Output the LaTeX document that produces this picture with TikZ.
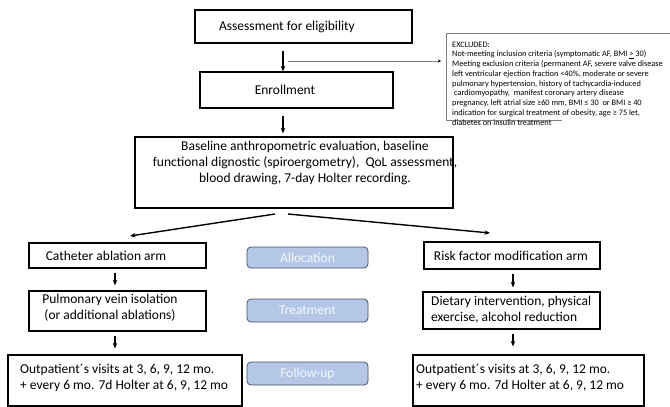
\documentclass[tikz,border=0pt]{standalone}
\usepackage{fontspec}
\setmainfont{Carlito}
\usetikzlibrary{arrows.meta}
\definecolor{pillfill}{RGB}{180,199,231}
\definecolor{pillline}{RGB}{70,80,100}
\definecolor{pilltext}{RGB}{245,248,252}
\definecolor{exclgray}{RGB}{128,128,128}
\begin{document}
\begin{tikzpicture}[x=1pt,y=-1pt,
  box/.style={draw, line width=1.2pt, inner sep=0pt},
  pill/.style={draw=pillline, fill=pillfill, rounded corners=4pt, line width=0.8pt,
    text=pilltext, inner sep=0pt, font=\fontsize{13.5}{16}\selectfont},
  txt/.style={inner sep=0pt, font=\fontsize{13.5}{16}\selectfont},
  arr/.style={-{Stealth[length=5.5pt,width=4.5pt]}, line width=1.2pt},
  exclarr/.style={exclgray, line width=0.8pt, -{Stealth[length=3pt,width=3pt,color=black]}}
]
\useasboundingbox (0,0) rectangle (670,407);
\clip (0,0) rectangle (670,407);

% main column
\node[box, minimum width=217pt, minimum height=33pt] (assess) at (303.5,26.5) {};
\node[txt] (assessT) at (287,27) {Assessment for eligibility};
\node[box, minimum width=193pt, minimum height=36pt] (enroll) at (296.5,90) {};
\node[txt] (enrollT) at (285,90) {Enrollment};
\node[box, minimum width=318pt, minimum height=71pt] (base) at (294,172.5) {};
\node[txt, align=center] (baseT) at (305,163) {Baseline anthropometric evaluation, baseline\\
  functional dignostic (spiroergometry),\ \ QoL assessment,\\
  blood drawing, 7-day Holter recording.};

% excluded box
\draw[exclgray, line width=0.7pt] (562,120) -- (446,120) -- (446,33) -- (680,33);
\node[anchor=north west, inner sep=0pt, align=left, font=\fontsize{8.3}{9.75}\selectfont] (exclT) at (452,41.5) {EXCLUDED:\\
Not-meeting inclusion criteria (symptomatic AF, BMI \underline{>} 30)\\
Meeting exclusion criteria (permanent AF, severe valve disease\\
left ventricular ejection fraction <40\%, moderate or severe\\
pulmonary hypertension, history of tachycardia-induced\\
\hspace{2pt}cardiomyopathy,\ \ manifest coronary artery disease\\
pregnancy, left atrial size ≥60 mm, BMI ≤ 30\ \ or BMI ≥ 40\\
indication for surgical treatment of obesity, age ≥ 75 let,\\
diabetes on insulin treatment};

% arms
\node[box, minimum width=177pt, minimum height=25pt] (cath) at (117.5,255.5) {};
\node[txt] (cathT) at (106,255.5) {Catheter ablation arm};
\node[box, minimum width=176pt, minimum height=27pt] (risk) at (512,255.5) {};
\node[txt] (riskT) at (511,255.5) {Risk factor modification arm};

\node[box, minimum width=177pt, minimum height=40pt] (pulm) at (117.5,311) {};
\node[txt, align=center] (pulmT) at (110,308) {Pulmonary vein isolation\\(or additional ablations)};
\node[box, minimum width=177pt, minimum height=37pt] (diet) at (511.5,310.5) {};
\node[txt, align=left, anchor=west] (dietT) at (431,310) {Dietary intervention, physical\\exercise, alcohol reduction};

\node[box, minimum width=234pt, minimum height=51pt] (outL) at (125,380.5) {};
\node[txt, align=left, anchor=west] (outLT) at (20,377.5) {Outpatient´s visits at 3, 6, 9, 12 mo.\\+ every 6 mo. 7d Holter at 6, 9, 12 mo};
\node[box, minimum width=231pt, minimum height=51pt] (outR) at (528.5,380.5) {};
\node[txt, align=left, anchor=west] (outRT) at (416,377.5) {Outpatient´s visits at 3, 6, 9, 12 mo.\\+ every 6 mo. 7d Holter at 6, 9, 12 mo};

% phase pills
\node[pill, minimum width=121pt, minimum height=21pt] (alloc) at (307.5,257.5) {Allocation};
\node[pill, minimum width=121pt, minimum height=23pt] (treat) at (307.5,310.5) {Treatment};
\node[pill, minimum width=121pt, minimum height=23pt] (follow) at (307.5,373.5) {Follow-up};

% connector coordinates
\coordinate (cx) at (283,0);
\coordinate (lx) at (115,0);
\coordinate (rx) at (513,0);
\coordinate (exclS) at (288,61);
\coordinate (exclE) at (441,61);
\coordinate (dLs) at (275,214);
\coordinate (dLe) at (130,236);
\coordinate (dRs) at (288,214);
\coordinate (dRe) at (490,233);

% connectors
\draw[arr, shorten <=7pt] (assess.south -| cx) -- (enroll.north -| cx);
\draw[exclarr] (exclS) -- (exclE);
\draw[arr, shorten <=7pt, shorten >=3pt] (enroll.south -| cx) -- (base.north -| cx);
\draw[arr, line width=1.4pt] (dLs) -- (dLe);
\draw[arr, line width=1.4pt] (dRs) -- (dRe);
\draw[arr, shorten <=4pt, shorten >=5pt] (cath.south -| lx) -- (pulm.north -| lx);
\draw[arr, shorten <=4pt, shorten >=4pt] (risk.south -| rx) -- (diet.north -| rx);
\draw[arr, shorten <=4pt, shorten >=6pt] (pulm.south -| lx) -- (outL.north -| lx);
\draw[arr, shorten <=4pt, shorten >=8pt] (diet.south -| rx) -- (outR.north -| rx);
\end{tikzpicture}
\end{document}
